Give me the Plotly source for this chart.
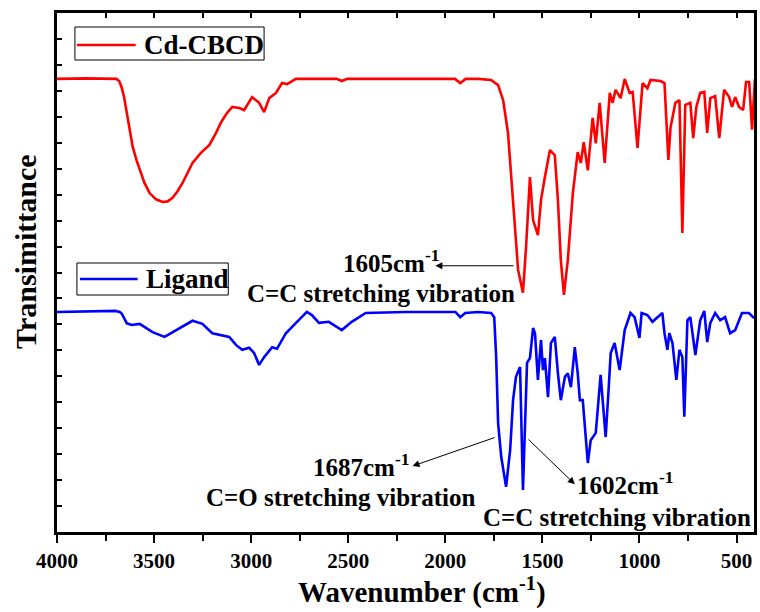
import plotly.graph_objects as go

# ---- Data ----
cd_wn = [4000, 3850, 3694, 3680, 3668, 3655, 3643, 3625, 3610, 3590, 3574, 3550, 3523, 3490,
         3456, 3430, 3405, 3380, 3354, 3330, 3302, 3260, 3215, 3185, 3154, 3125,
         3097, 3061, 3036, 2995, 2959, 2933, 2907, 2872, 2841, 2815, 2769, 2560, 2533, 2505,
         1950, 1923, 1895, 1830, 1764, 1728, 1702, 1677, 1661, 1641, 1625, 1600, 1584, 1564,
         1548, 1523, 1507, 1487, 1461, 1436, 1420, 1405, 1389, 1369, 1343, 1318, 1302, 1287,
         1266, 1241, 1225, 1205, 1179, 1153, 1138, 1123, 1097, 1076, 1051, 1035, 1010, 984,
         959, 943, 892, 871, 851, 840, 815, 794, 779, 764, 738, 723, 707, 687, 666, 651, 635,
         610, 589, 564, 538, 523, 507, 487, 466, 451, 435, 420, 405]
cd_t = [87.3, 87.4, 87.3, 86.9, 85.8, 83.9, 81.3, 77.6, 74.2, 71.6, 69.7, 67.3, 65.3, 64.1,
        63.6, 63.7, 64.4, 65.6, 67.2, 69.0, 71.1, 73.0, 74.6, 76.6, 79.0, 80.7,
        81.9, 81.7, 81.3, 83.8, 82.7, 80.9, 83.6, 84.6, 86.5, 86.3, 87.3, 87.3, 86.9, 87.3,
        87.3, 86.5, 87.3, 87.3, 87.1, 86.1, 83.2, 76.9, 68.4, 57.6, 50.5, 46.1, 54.9, 68.4,
        60.1, 57.2, 64.0, 68.4, 73.6, 72.6, 64.0, 52.4, 45.7, 52.4, 65.3, 73.2, 71.1, 75.1,
        69.7, 79.8, 74.9, 82.7, 71.1, 84.6, 82.7, 85.2, 83.6, 87.3, 84.6, 84.8, 74.0, 86.5,
        85.5, 87.1, 86.9, 86.5, 71.7, 77.9, 82.7, 83.2, 57.6, 82.3, 82.7, 75.9, 81.9, 84.6,
        84.8, 76.9, 83.6, 84.0, 75.9, 85.2, 83.8, 81.9, 83.8, 81.9, 81.3, 86.7, 86.7, 77.5,
        87.3]

lig_wn = [4000, 3700, 3677, 3667, 3640, 3615, 3574, 3508, 3446, 3369, 3302, 3251, 3200, 3113,
          3077, 3046, 3010, 2985, 2959, 2933, 2892, 2867, 2821, 2769, 2713, 2687, 2651, 2600,
          2533, 2482, 2410, 2205, 1948, 1923, 1897, 1830, 1764, 1748, 1738, 1728, 1712, 1687,
          1666, 1651, 1636, 1615, 1610, 1600, 1589, 1579, 1564, 1548, 1538, 1523, 1507, 1497,
          1487, 1471, 1456, 1436, 1420, 1405, 1384, 1369, 1353, 1333, 1318, 1307, 1292, 1266,
          1251, 1225, 1200, 1174, 1159, 1148, 1128, 1102, 1076, 1046, 1025, 1000, 989, 959,
          933, 907, 882, 871, 856, 846, 830, 810, 794, 779, 769, 753, 738, 712, 687, 666, 651,
          635, 610, 584, 559, 533, 507, 472, 436, 410]
lig_t = [42.4, 42.6, 42.4, 42.1, 40.2, 39.9, 40.1, 38.5, 37.6, 39.3, 40.7, 40.1, 38.3, 37.6,
         36.0, 35.1, 35.5, 34.5, 32.2, 33.7, 35.6, 35.3, 38.3, 40.3, 42.4, 41.8, 40.3, 40.5,
         38.9, 40.5, 42.2, 42.4, 42.4, 41.4, 42.2, 42.4, 42.2, 41.4, 33.7, 21.0, 14.5, 8.7,
         15.8, 25.4, 29.9, 31.8, 24.1, 8.1, 21.0, 32.6, 33.5, 39.3, 38.3, 29.3, 37.0, 31.2,
         33.5, 26.0, 36.4, 37.6, 30.6, 25.4, 29.9, 30.6, 27.9, 35.6, 30.6, 25.4, 25.4, 13.3,
         17.7, 19.1, 30.3, 18.3, 27.4, 34.5, 36.4, 31.2, 38.9, 42.2, 41.4, 37.4, 42.2, 41.8,
         40.5, 41.4, 42.2, 38.3, 35.1, 38.3, 36.4, 29.3, 35.1, 33.7, 22.2, 40.8, 41.4, 34.1,
         40.8, 42.6, 36.6, 40.3, 42.2, 40.8, 41.4, 38.3, 38.9, 42.2, 42.2, 41.2]

series_names = ["Cd-CBCD", "Ligand"]
series_colors = ["#FF0000", "#0000FF"]
x_ticks = [4000, 3500, 3000, 2500, 2000, 1500, 1000, 500]
x_range = [4000, 410]
y_range = [0, 100]

F = "Liberation Serif"

fig = go.Figure()
fig.add_trace(go.Scatter(x=cd_wn, y=cd_t, mode="lines", name=series_names[0],
                         line=dict(color=series_colors[0], width=2.6), showlegend=False))
fig.add_trace(go.Scatter(x=lig_wn, y=lig_t, mode="lines", name=series_names[1],
                         line=dict(color=series_colors[1], width=2.6), showlegend=False))
# empty helper trace so that the top axis (inner minor ticks) is drawn
fig.add_trace(go.Scatter(x=[None], y=[None], xaxis="x2", yaxis="y", mode="lines",
                         showlegend=False, hoverinfo="skip"))

# ---- legend boxes (one per series, as in the reference) ----
legend_boxes = [  # paper coords: box x0, x1, y0, y1 ; sample x0, x1 ; y
    (0.0257, 0.2971, 0.9094, 0.9730, 0.0286, 0.1129, 0.9383),
    (0.0286, 0.2457, 0.4566, 0.5183, 0.0329, 0.1157, 0.4875),
]
for (bx0, bx1, by0, by1, lx0, lx1, ly), nm, col in zip(legend_boxes, series_names, series_colors):
    fig.add_shape(type="rect", xref="paper", yref="paper", x0=bx0, x1=bx1, y0=by0, y1=by1,
                  line=dict(color="black", width=1), fillcolor="white", layer="above")
    fig.add_shape(type="line", xref="paper", yref="paper", x0=lx0, x1=lx1, y0=ly, y1=ly,
                  line=dict(color=col, width=2.6), layer="above")
    fig.add_annotation(xref="paper", yref="paper", x=lx1 + 0.009, y=ly, text="<b>%s</b>" % nm,
                       showarrow=False, xanchor="left", yanchor="middle",
                       font=dict(family=F, size=27, color="black"))

txt_font = dict(family=F, size=25, color="black")
labels = [
    (2277, 52.2, "<b>1605cm<sup>-1</sup></b>"),
    (2333, 46.0, "<b>C=C stretching vibration</b>"),
    (2431, 12.9, "<b>1687cm<sup>-1</sup></b>"),
    (2538, 6.6, "<b>C=O stretching vibration</b>"),
    (1071, 9.4, "<b>1602cm<sup>-1</sup></b>"),
    (1117, 2.8, "<b>C=C stretching vibration</b>"),
]
for xx, yy, t in labels:
    fig.add_annotation(x=xx, y=yy, xref="x", yref="y", text=t, showarrow=False,
                       font=txt_font, xanchor="center", yanchor="middle")

arrows = [
    (2051, 51.3, 1641, 51.3),
    (2169, 12.7, 1738, 18.3),
    (1333, 9.2, 1579, 18.1),
]
for hx, hy, tx, ty in arrows:
    fig.add_annotation(x=hx, y=hy, ax=tx, ay=ty, xref="x", yref="y", axref="x", ayref="y",
                       text="", showarrow=True, arrowhead=2, arrowsize=1.4, arrowwidth=1,
                       arrowcolor="black")

# axis titles (placed as in the reference)
fig.add_annotation(xref="paper", yref="paper", x=0.523, y=-0.112, xanchor="center",
                   yanchor="middle", showarrow=False,
                   text="<b>Wavenumber (cm<sup>-1</sup>)</b>",
                   font=dict(family=F, size=29, color="black"))
fig.add_annotation(xref="paper", yref="paper", x=-0.045, y=0.539, xanchor="center",
                   yanchor="middle", showarrow=False, textangle=-90,
                   text="<b>Transimittance</b>",
                   font=dict(family=F, size=30, color="black"))

fig.update_layout(
    width=760, height=612,
    margin=dict(l=57, r=3, t=13, b=80),
    paper_bgcolor="white", plot_bgcolor="white",
    font=dict(family=F, color="black"),
    showlegend=False,
    xaxis=dict(range=x_range, tickvals=x_ticks, ticktext=["<b>%d</b>" % v for v in x_ticks],
               showgrid=False, zeroline=False, showline=True, linecolor="black",
               linewidth=3, mirror=True, ticks="outside", ticklen=8, tickwidth=2,
               tickcolor="black",
               minor=dict(dtick=250, tick0=0, ticks="outside", ticklen=6, tickwidth=2,
                          tickcolor="black", showgrid=False),
               tickfont=dict(family=F, size=21, color="black")),
    yaxis=dict(range=y_range, dtick=5, tick0=0, showticklabels=False, showgrid=False,
               zeroline=False, showline=True, linecolor="black", linewidth=3, mirror=True,
               ticks="inside", ticklen=5, tickwidth=1.5, tickcolor="black"),
    xaxis2=dict(range=x_range, overlaying="x", side="top", anchor="y",
                showticklabels=False, showgrid=False, zeroline=False, showline=False,
                ticks="inside", ticklen=5, tickwidth=1.5, tickcolor="black",
                tickvals=[4000 - 250 * i for i in range(15)]),
)

fig.write_html("out.html")
